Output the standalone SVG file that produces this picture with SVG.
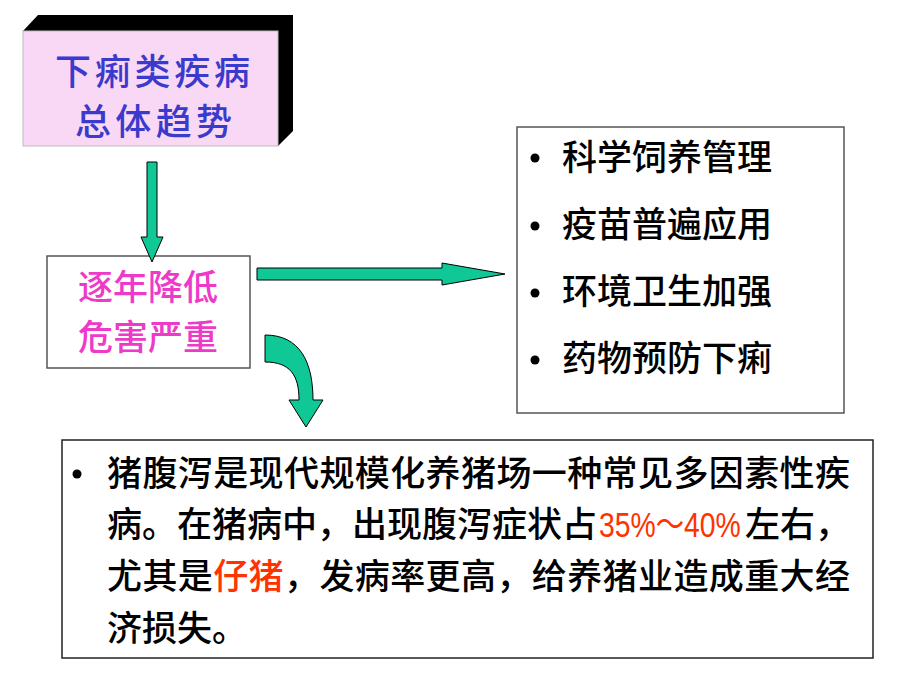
<svg xmlns="http://www.w3.org/2000/svg" width="920" height="685" viewBox="0 0 920 685">
<style>
.cjk{font-family:"Noto Sans CJK SC","Liberation Sans",sans-serif;font-weight:500;}
.arrow{fill:#10c896;stroke:#000;stroke-width:1;}
.box{fill:#fff;stroke:#555;stroke-width:1.5;}
.blk{fill:#000;font-size:35px;}
.btm{fill:#000;font-size:35px;}
.red{fill:#ff3300;}
</style>
<rect width="920" height="685" fill="#fff"/>
<g id="title">
<polygon points="23,31 38,15 293,15 293,131 278,146 278,31" fill="#000"/>
<rect x="23" y="31" width="255" height="115" fill="#f9d8f5" stroke="#bbb" stroke-width="1"/>
<text class="cjk" x="55" y="85" font-size="36" fill="#3a3acc" textLength="195">下痢类疾病</text>
<text class="cjk" x="75" y="135" font-size="36" fill="#3a3acc" textLength="157">总体趋势</text>
</g>
<g id="trend">
<rect class="box" x="47" y="256" width="203" height="112"/>
<text class="cjk" x="148" y="300" font-size="35" fill="#ee3ac8" text-anchor="middle">逐年降低</text>
<text class="cjk" x="148" y="350" font-size="35" fill="#ee3ac8" text-anchor="middle">危害严重</text>
</g>
<g id="measures">
<rect class="box" x="517" y="127" width="327" height="286"/>
<g class="cjk blk">
<circle cx="535" cy="158" r="4.5" fill="#000"/>
<text x="562" y="170" textLength="210">科学饲养管理</text>
<circle cx="535" cy="226" r="4.5" fill="#000"/>
<text x="562" y="237" textLength="210">疫苗普遍应用</text>
<circle cx="535" cy="293" r="4.5" fill="#000"/>
<text x="562" y="304" textLength="210">环境卫生加强</text>
<circle cx="535" cy="360" r="4.5" fill="#000"/>
<text x="562" y="371" textLength="210">药物预防下痢</text>
</g>
</g>
<g id="description">
<rect x="62" y="440" width="811" height="218" fill="#fff" stroke="#222" stroke-width="1.5"/>
<circle cx="77" cy="474" r="4.5" fill="#000"/>
<g class="cjk btm">
<text x="107" y="486" textLength="743">猪腹泻是现代规模化养猪场一种常见多因素性疾</text>
<text x="107" y="537">病。在猪病中，出现腹泻症状占</text>
<g transform="translate(599,537) scale(0.81,1)">
<text class="red" x="0" y="0" font-family="Liberation Sans,Noto Sans CJK SC,sans-serif" font-weight="normal">35%～40%</text>
</g>
<text x="745" y="537">左右，</text>
<text x="107" y="589" textLength="743">尤其是<tspan class="red">仔猪</tspan>，发病率更高，给养猪业造成重大经</text>
<text x="107" y="641">济损失。</text>
</g>
</g>
<g id="connectors">
<polygon class="arrow" points="147,162 157,162 157,237 163,237 152,262 141,237 147,237"/>
<polygon class="arrow" points="257,268 442,268 442,263 505,274 442,285 442,280 257,280"/>
<path class="arrow" d="M265,335 C300,335 313,362 313,400 L323,400 L306,427 L289,400 L299,400 C299,375 290,362 265,362 Z"/>
</g>
</svg>
